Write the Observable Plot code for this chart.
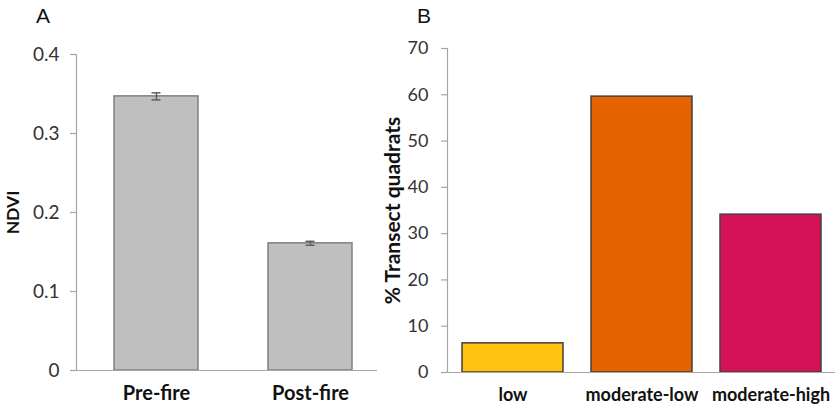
<!DOCTYPE html>
<html>
<head>
<meta charset="utf-8">
<script src="https://cdn.jsdelivr.net/npm/d3@7"></script>
<script src="https://cdn.jsdelivr.net/npm/@observablehq/plot@0.6"></script>
<style>
  body { margin: 0; background: #fff; }
  #wrap { position: relative; width: 839px; height: 411px; overflow: hidden; font-family: Lato, "Open Sans", sans-serif; }
  #wrap > div.panel { position: absolute; top: 0; }
  .letter { position: absolute; font-family: "Liberation Sans", Arial, sans-serif; font-size: 21px; line-height: 21px; color: #111; }
  #pa svg g[aria-label="y-axis tick label"] text { font-size: 19px; }
  #pb svg g[aria-label="y-axis tick label"] text { font-size: 18px; }
  #pa svg g[aria-label="x-axis tick label"] text { font-size: 20px; font-weight: bold; fill: #111; }
  #pb svg g[aria-label="x-axis tick label"] text { font-size: 18px; font-weight: bold; fill: #111; }
  #pa svg g[aria-label="y-axis label"] text { font-size: 17.5px; font-weight: bold; fill: #111; }
  #pb svg g[aria-label="y-axis label"] text { font-size: 21px; font-weight: bold; fill: #111; }
</style>
</head>
<body>
<div id="wrap">
  <div class="panel" id="pa" style="left:0"></div>
  <div class="panel" id="pb" style="left:380px"></div>
  <div class="letter" style="left:36px; top:5px;">A</div>
  <div class="letter" style="left:417px; top:5px;">B</div>
</div>
<script>
// Panel A
const fireCategories = ["Pre-fire", "Post-fire"];
const ndviValues = [0.347, 0.161];
const ndviErrors = [0.0045, 0.0025];
const ndviTicks = [0, 0.1, 0.2, 0.3, 0.4];

// Panel B
const severityCategories = ["low", "moderate-low", "moderate-high"];
const quadratPercents = [6.3, 59.6, 34.1];
const severityColors = ["#FFC20E", "#E56300", "#D51257"];
const percentTicks = [0, 10, 20, 30, 40, 50, 60, 70];

const dataA = fireCategories.map((c, i) => ({cat: c, v: ndviValues[i], e: ndviErrors[i]}));
const dataB = severityCategories.map((c, i) => ({cat: c, v: quadratPercents[i], color: severityColors[i]}));

const axisColor = "#A6A6A6";
const textColor = "#333";

const chartA = Plot.plot({
  width: 380, height: 411,
  marginLeft: 76, marginRight: 3, marginTop: 54, marginBottom: 41,
  style: {fontFamily: "Lato, 'Open Sans', sans-serif", fontSize: "18px", color: textColor, background: "transparent", overflow: "visible"},
  x: {domain: fireCategories, paddingInner: 0.455, paddingOuter: 0.2, align: 0.6},
  y: {domain: [0, 0.4]},
  marks: [
    Plot.barY(dataA, {x: "cat", y: "v", fill: "#BFBFBF", stroke: "#808080", strokeWidth: 1.5}),
    Plot.ruleX(dataA, {x: "cat", y1: d => d.v - d.e, y2: d => d.v + d.e, stroke: "#5f5f5f", strokeWidth: 1.5}),
    Plot.tickY(dataA, {x: "cat", y: d => d.v - d.e, stroke: "#5f5f5f", strokeWidth: 1.5, insetLeft: 37.5, insetRight: 37.5}),
    Plot.tickY(dataA, {x: "cat", y: d => d.v + d.e, stroke: "#5f5f5f", strokeWidth: 1.5, insetLeft: 37.5, insetRight: 37.5}),
    Plot.ruleY([0], {stroke: axisColor, strokeWidth: 1.2}),
    Plot.frame({anchor: "left", stroke: axisColor, strokeWidth: 1.2}),
    Plot.axisY({ticks: ndviTicks, tickFormat: d => d === 0 ? "0" : d3.format(".1f")(d), tickSize: 6, tickPadding: 11, stroke: axisColor, strokeWidth: 1.2,
      label: "NDVI", labelAnchor: "center", labelArrow: "none", labelOffset: 70}),
    Plot.axisX({tickSize: 0, tickPadding: 15, label: null})
  ]
});
document.getElementById("pa").appendChild(chartA);

const chartB = Plot.plot({
  width: 459, height: 411,
  marginLeft: 67, marginRight: 4, marginTop: 48, marginBottom: 39,
  style: {fontFamily: "Lato, 'Open Sans', sans-serif", fontSize: "18px", color: textColor, background: "transparent", overflow: "visible"},
  x: {domain: severityCategories, paddingInner: 0.218, paddingOuter: 0.11},
  y: {domain: [0, 70]},
  marks: [
    Plot.barY(dataB, {x: "cat", y: "v", fill: "color", stroke: "#404040", strokeWidth: 1.5}),
    Plot.ruleY([0], {stroke: axisColor, strokeWidth: 1.2}),
    Plot.frame({anchor: "left", stroke: axisColor, strokeWidth: 1.2}),
    Plot.axisY({ticks: percentTicks, tickSize: 6, tickPadding: 13, stroke: axisColor, strokeWidth: 1.2,
      label: "% Transect quadrats", labelAnchor: "center", labelArrow: "none", labelOffset: 62}),
    Plot.axisX({tickSize: 0, tickPadding: 16, label: null})
  ]
});
document.getElementById("pb").appendChild(chartB);
</script>
</body>
</html>
